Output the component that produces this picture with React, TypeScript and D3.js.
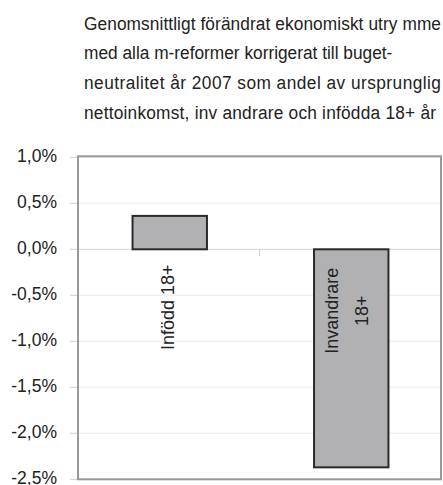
import React from "react";
import * as d3 from "d3";

const titleLines: string[] = [
  "Genomsnittligt förändrat ekonomiskt utry mme",
  "med alla m-reformer korrigerat till buget-",
  "neutralitet år 2007 som andel av  ursprunglig",
  "nettoinkomst, inv andrare och infödda 18+ år",
];
const categories: string[] = ["Infödd 18+", "Invandrare 18+"];
const categoryLabelLines: string[][] = [["Infödd 18+"], ["Invandrare", "18+"]];
const values: number[] = [0.00363, -0.0237];
const yTicks: number[] = [0.01, 0.005, 0, -0.005, -0.01, -0.015, -0.02, -0.025];

const W = 443;
const H = 485;
const plot = { left: 78, right: 441, top: 157.3, bottom: 479.3 };
const titleScale = 0.94;
const titleWidths: (number | null)[] = [357, null, 357, 352];

const locale = d3.formatLocale({
  decimal: ",",
  thousands: " ",
  grouping: [3],
  currency: ["", " kr"],
  percent: "%",
  minus: "-",
});
const fmt = locale.format(".1%");

export default function App() {
  const x = d3
    .scaleBand<string>()
    .domain(categories)
    .range([plot.left, plot.right])
    .paddingInner(0)
    .paddingOuter(0);
  const y = d3.scaleLinear().domain([-0.025, 0.01]).range([plot.bottom, plot.top]);
  const barW = x.bandwidth() * 0.41;
  const y0 = y(0);
  const font = "'Liberation Sans', Arial, sans-serif";

  return (
    <div style={{ position: "fixed", left: 0, top: 0 }}>
      <svg width={W} height={H} style={{ display: "block", background: "#fff" }}>
        {/* title */}
        {titleLines.map((t, i) => {
          const tl = titleWidths[i];
          return (
            <text
              key={i}
              transform={`translate(84,${29.5 + i * 29.8}) scale(${titleScale},1)`}
              fontFamily={font}
              fontSize={18.4}
              fill="#222"
              {...(tl ? { textLength: tl / titleScale, lengthAdjust: "spacing" } : {})}
            >
              {t}
            </text>
          );
        })}
        {/* gridlines */}
        {yTicks.map((t) => (
          <line
            key={"g" + t}
            x1={plot.left}
            x2={plot.right}
            y1={y(t)}
            y2={y(t)}
            stroke={t === 0 ? "#d2d2d2" : "#ececec"}
            strokeWidth={1}
          />
        ))}
        {/* y ticks */}
        {yTicks.map((t) => (
          <g key={"t" + t}>
            <line x1={70} x2={plot.left} y1={y(t)} y2={y(t)} stroke="#cfcfcf" strokeWidth={1} />
            <text
              x={57}
              y={y(t) + 4.5}
              textAnchor="end"
              fontFamily={font}
              fontSize={17.5}
              fill="#222"
            >
              {fmt(t)}
            </text>
          </g>
        ))}
        {/* category separator tick */}
        <line
          x1={x(categories[1])!}
          x2={x(categories[1])!}
          y1={y0}
          y2={y0 + 7}
          stroke="#cfcfcf"
          strokeWidth={1}
        />
        {/* bars */}
        {categories.map((c, i) => {
          const cx = x(c)! + x.bandwidth() / 2 + 1;
          const v = values[i];
          return (
            <rect
              key={c}
              x={cx - barW / 2}
              y={Math.min(y(v), y0)}
              width={barW}
              height={Math.abs(y(v) - y0)}
              fill="#b1b1b4"
              stroke="#2a2a2a"
              strokeWidth={2}
            />
          );
        })}
        {/* category labels (rotated) */}
        {categories.map((c, i) => {
          const lines = categoryLabelLines[i];
          const cx = x(c)! + x.bandwidth() / 2 + 1;
          const lineGap = 30;
          const midY = y0 + (i === 0 ? 58 : 61.5);
          const firstBase = cx + 5 - ((lines.length - 1) * lineGap) / 2;
          return lines.map((ln, j) => {
            const bx = lines.length === 1 ? cx + 4 : firstBase + j * lineGap - 3;
            return (
              <text
                key={c + j}
                transform={`translate(${bx},${midY}) rotate(-90)`}
                textAnchor="middle"
                fontFamily={font}
                fontSize={18}
                fill="#222"
              >
                {ln}
              </text>
            );
          });
        })}
        {/* frame */}
        <rect
          x={plot.left}
          y={plot.top - 1}
          width={plot.right - plot.left}
          height={plot.bottom - plot.top + 1}
          fill="none"
          stroke="#999"
          strokeWidth={2}
        />
      </svg>
    </div>
  );
}
